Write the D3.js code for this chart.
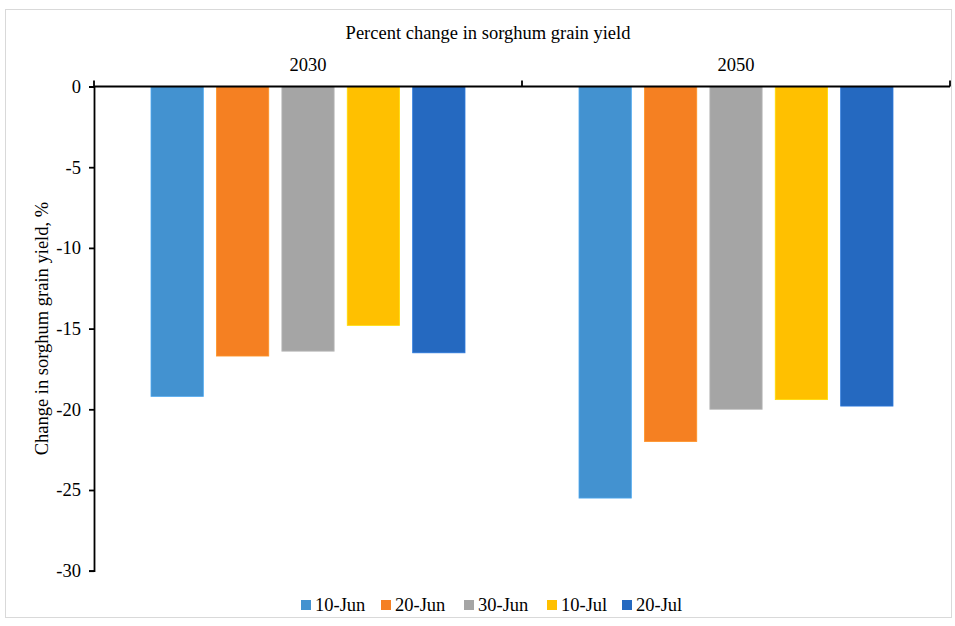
<!DOCTYPE html>
<html>
<head>
<meta charset="utf-8">
<script src="https://cdn.jsdelivr.net/npm/d3@7"></script>
<style>
  html, body { margin: 0; padding: 0; background: #fff; }
  svg { display: block; font-family: "Liberation Serif", "Times New Roman", serif; }
</style>
</head>
<body>
<svg id="chart" width="955" height="626"></svg>
<script>
// Sowing dates (series) and projection years (groups)
const years = ["2030", "2050"];
const sowingDates = ["10-Jun", "20-Jun", "30-Jun", "10-Jul", "20-Jul"];
const yield2030 = [-19.2, -16.7, -16.4, -14.8, -16.5];
const yield2050 = [-25.5, -22.0, -20.0, -19.4, -19.8];
const yTicks = [0, -5, -10, -15, -20, -25, -30];
const colors = ["#4392d0", "#f58022", "#a5a5a5", "#ffc000", "#2569c0"];

const valuesByYear = { "2030": yield2030, "2050": yield2050 };

const svg = d3.select("#chart");
const W = 955, H = 626;
const FS = 18.5;

// outer chart frame
svg.append("rect")
  .attr("x", 5.5).attr("y", 9.5)
  .attr("width", W - 9).attr("height", H - 18)
  .attr("fill", "#fff").attr("stroke", "#d9d9d9").attr("stroke-width", 1);

const plot = { left: 94, right: 950, top: 86.5, bottom: 570.7 };

const x0 = d3.scaleBand().domain(years).range([plot.left, plot.right]).padding(0);
const x1 = d3.scaleBand().domain(sowingDates)
  .range([57, x0.bandwidth() - 57]).paddingInner(0.2).paddingOuter(0);
const y = d3.scaleLinear().domain([0, -30]).range([plot.top, plot.bottom]);
const color = d3.scaleOrdinal().domain(sowingDates).range(colors);

// title
svg.append("text")
  .attr("x", 488).attr("y", 39)
  .attr("text-anchor", "middle")
  .attr("font-size", FS).attr("fill", "#000")
  .text("Percent change in sorghum grain yield");

// bars
const groups = svg.append("g").selectAll("g")
  .data(years).join("g")
  .attr("transform", d => `translate(${x0(d)},0)`);

groups.selectAll("rect")
  .data(yr => sowingDates.map((s, i) => ({ s, v: valuesByYear[yr][i] })))
  .join("rect")
  .attr("x", d => x1(d.s))
  .attr("width", x1.bandwidth())
  .attr("y", d => y(Math.max(0, d.v)))
  .attr("height", d => Math.abs(y(d.v) - y(0)))
  .attr("fill", d => color(d.s))
  .attr("stroke", d => d3.color(color(d.s)).brighter(0.4))
  .attr("stroke-width", 0.8);

// y axis
const yAxis = d3.axisLeft(y).tickValues(yTicks).tickSize(5).tickPadding(8)
  .tickFormat(d => String(d));
const gy = svg.append("g")
  .attr("transform", `translate(${plot.left},0)`)
  .call(yAxis);
gy.select(".domain").attr("stroke", "#000").attr("stroke-width", 1.8);
gy.selectAll(".tick line").attr("stroke", "#000").attr("stroke-width", 1.8);
gy.selectAll(".tick text")
  .attr("font-family", "Liberation Serif, Times New Roman, serif")
  .attr("font-size", FS).attr("fill", "#000");

// category axis along zero line, labels above
const gx = svg.append("g").attr("transform", `translate(0,${y(0)})`);
gx.append("line")
  .attr("x1", plot.left).attr("x2", plot.right)
  .attr("stroke", "#000").attr("stroke-width", 1.8);
const boundaries = years.map(d => x0(d)).concat([x0(years[years.length - 1]) + x0.bandwidth()]);
gx.selectAll("line.tick")
  .data(boundaries).join("line")
  .attr("class", "tick")
  .attr("x1", d => d).attr("x2", d => d)
  .attr("y1", 0).attr("y2", -6)
  .attr("stroke", "#000").attr("stroke-width", 1.8);
gx.selectAll("text")
  .data(years).join("text")
  .attr("x", d => x0(d) + x0.bandwidth() / 2)
  .attr("y", -16)
  .attr("text-anchor", "middle")
  .attr("font-size", FS).attr("fill", "#000")
  .text(d => d);

// y axis title
svg.append("text")
  .attr("transform", `translate(48,${(plot.top + plot.bottom) / 2}) rotate(-90)`)
  .attr("text-anchor", "middle")
  .attr("font-size", FS).attr("fill", "#000")
  .text("Change in sorghum grain yield, %");

// legend
const legendX = [301, 381, 464, 547, 622];
const legend = svg.append("g").selectAll("g")
  .data(sowingDates).join("g")
  .attr("transform", (d, i) => `translate(${legendX[i]},605)`);
legend.append("rect")
  .attr("x", 0).attr("y", -5).attr("width", 10).attr("height", 10)
  .attr("fill", d => color(d));
legend.append("text")
  .attr("x", 14).attr("y", 6)
  .attr("font-size", FS).attr("fill", "#000")
  .text(d => d);
</script>
</body>
</html>
